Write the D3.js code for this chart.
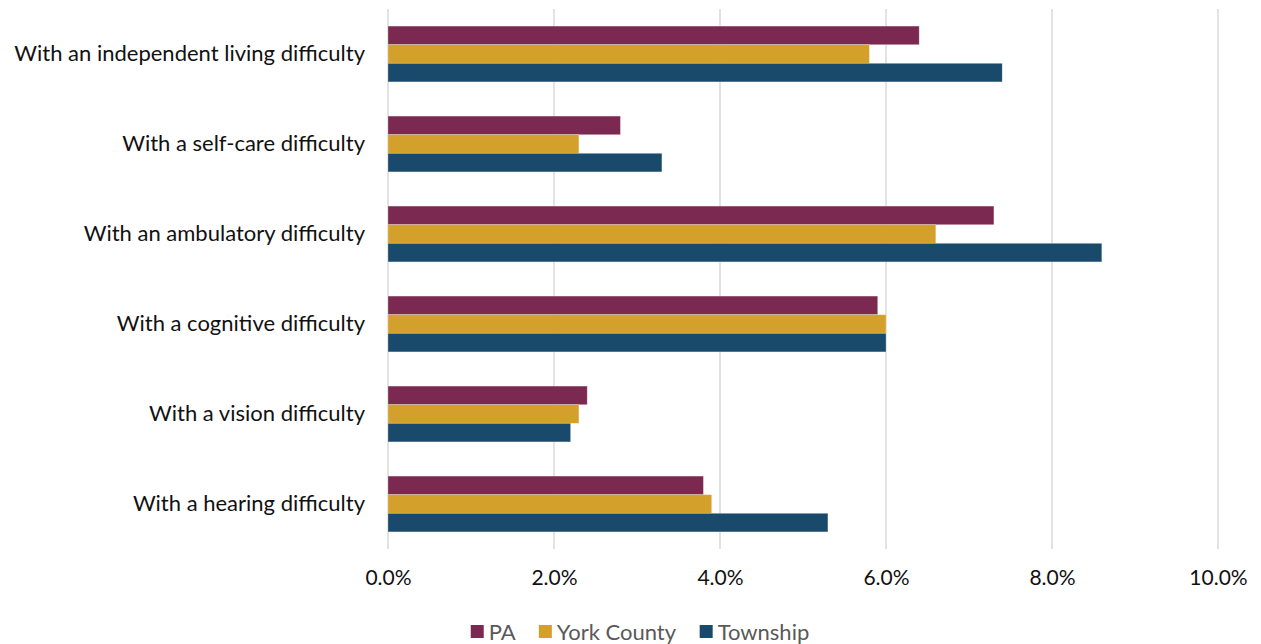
<!DOCTYPE html>
<html>
<head>
<meta charset="utf-8">
<script src="https://cdn.jsdelivr.net/npm/d3@7"></script>
<style>
  html, body { margin: 0; padding: 0; background: #ffffff; }
  svg { display: block; font-family: Lato, "Open Sans", sans-serif; }
</style>
</head>
<body>
<svg id="chart" width="1261" height="644"></svg>
<script>
// Categories, top to bottom
const categories = [
  "With an independent living difficulty",
  "With a self-care difficulty",
  "With an ambulatory difficulty",
  "With a cognitive difficulty",
  "With a vision difficulty",
  "With a hearing difficulty"
];
const seriesNames = ["PA", "York County", "Township"];
const seriesColors = ["#7b2951", "#d4a02c", "#1a4a6b"];
// Share of population (%) per category
const paValues       = [6.4, 2.8, 7.3, 5.9, 2.4, 3.8];
const yorkValues     = [5.8, 2.3, 6.6, 6.0, 2.3, 3.9];
const townshipValues = [7.4, 3.3, 8.6, 6.0, 2.2, 5.3];
const tickValues = [0, 2, 4, 6, 8, 10];

const seriesValues = [paValues, yorkValues, townshipValues];
const rows = categories.map((c, i) => ({
  category: c,
  values: seriesNames.map((s, k) => ({ series: s, value: seriesValues[k][i], k }))
}));

const svg = d3.select("#chart");
const plot = { left: 388, right: 1218, top: 9, bottom: 549 };

const x = d3.scaleLinear().domain([0, 10]).range([plot.left, plot.right]);
const y = d3.scaleBand().domain(categories).range([plot.top, plot.bottom]).paddingInner(0.38).paddingOuter(0.19);
const yInner = d3.scaleBand().domain(seriesNames).range([0, y.bandwidth()]);

// Vertical gridlines
svg.append("g")
  .selectAll("line")
  .data(tickValues)
  .join("line")
  .attr("x1", d => x(d)).attr("x2", d => x(d))
  .attr("y1", plot.top).attr("y2", plot.bottom)
  .attr("stroke", "#d9d9d9")
  .attr("stroke-width", 1.5);

// Bars
const groups = svg.append("g")
  .selectAll("g")
  .data(rows)
  .join("g")
  .attr("transform", d => `translate(0,${y(d.category)})`);

groups.selectAll("rect")
  .data(d => d.values)
  .join("rect")
  .attr("x", x(0))
  .attr("y", d => yInner(d.series))
  .attr("width", d => x(d.value) - x(0))
  .attr("height", yInner.bandwidth())
  .attr("fill", d => seriesColors[d.k])
  .attr("stroke", "#ffffff")
  .attr("stroke-opacity", 0.35)
  .attr("stroke-width", 0.75);

// Category axis on the left
const yAxis = d3.axisLeft(y).tickSize(0).tickPadding(23);
const yg = svg.append("g").attr("transform", `translate(${plot.left},0)`).call(yAxis);
yg.select(".domain").remove();
yg.selectAll("text")
  .attr("font-size", 22)
  .attr("fill", "#111111")
  .attr("font-family", "Lato, 'Open Sans', sans-serif");

// Value axis along the bottom
const xAxis = d3.axisBottom(x).tickValues(tickValues).tickSize(0).tickPadding(21)
  .tickFormat(d => d3.format(".1f")(d) + "%");
const xg = svg.append("g").attr("transform", `translate(0,${plot.bottom})`).call(xAxis);
xg.select(".domain").remove();
xg.selectAll("text")
  .attr("font-size", 21)
  .attr("fill", "#111111")
  .attr("font-family", "Lato, 'Open Sans', sans-serif");

// Legend, centred below the axis
const legend = svg.append("g");
const items = legend.selectAll("g").data(seriesNames).join("g");
items.append("rect")
  .attr("width", 13).attr("height", 13)
  .attr("y", -7)
  .attr("fill", (d, i) => seriesColors[i]);
items.append("text")
  .attr("x", 18).attr("y", 0)
  .attr("dy", "0.35em")
  .attr("font-size", 22)
  .attr("fill", "#595959")
  .text(d => d);
let offset = 0;
const gap = 23;
items.each(function () {
  const w = this.getBBox().width;
  d3.select(this).attr("transform", `translate(${offset},632)`);
  offset += w + gap;
});
const total = offset - gap;
legend.attr("transform", `translate(${640 - total / 2},0)`);
</script>
</body>
</html>
